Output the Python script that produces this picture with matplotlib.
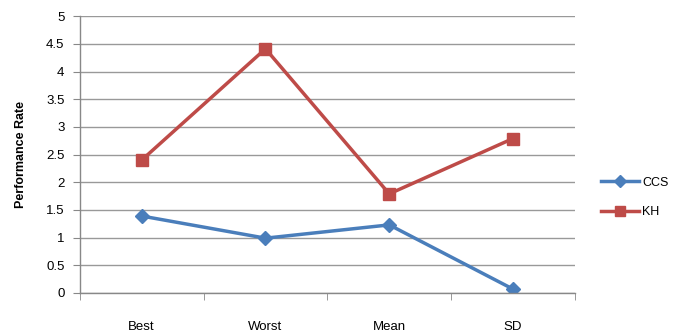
import matplotlib
matplotlib.use("Agg")
import matplotlib.pyplot as plt
import numpy as np

categories = ["Best", "Worst", "Mean", "SD"]
ccs = [1.39, 0.99, 1.23, 0.07]
kh = [2.40, 4.41, 1.79, 2.79]

plt.rcParams['font.family'] = ['Liberation Sans', 'DejaVu Sans']

fig = plt.figure(figsize=(6.82, 3.36), dpi=100)
ax = fig.add_axes([0.117, 0.128, 0.726, 0.824])

x = np.arange(len(categories))
ax.plot(x, ccs, color='#4a7ebb', lw=2.5, marker='D', ms=7, label='CCS')
ax.plot(x, kh, color='#be4b48', lw=2.5, marker='s', ms=8, label='KH')

ax.set_xlim(-0.5, len(categories) - 0.5)
ax.set_ylim(0, 5)
ax.set_yticks(np.arange(0, 5.01, 0.5))
ax.set_yticklabels(['0', '0.5', '1', '1.5', '2', '2.5', '3', '3.5', '4', '4.5', '5'])
ax.set_xticks(x)
ax.set_xticklabels(categories)
ax.set_xticks(np.arange(-0.5, len(categories), 1), minor=True)
ax.tick_params(axis='x', which='major', length=0, pad=20, labelsize=9.5)
ax.tick_params(axis='x', which='minor', length=5, color='#888888', direction='out')
ax.tick_params(axis='y', length=5, color='#888888', labelsize=9.5, pad=6)

ax.grid(axis='y', color='#999999', lw=1)
ax.set_axisbelow(True)
for s in ['top', 'right']:
    ax.spines[s].set_visible(False)
for s in ['left', 'bottom']:
    ax.spines[s].set_color('#888888')
    ax.spines[s].set_linewidth(1)

ax.set_ylabel('Performance Rate', fontsize=9, fontweight='bold', labelpad=14)

ax.legend(loc='center left', bbox_to_anchor=(1.03, 0.345), frameon=False,
          fontsize=9, handlelength=3, labelspacing=1.4, handletextpad=0.3,
          markerscale=0.85)

fig.savefig('out.png', dpi=100)
